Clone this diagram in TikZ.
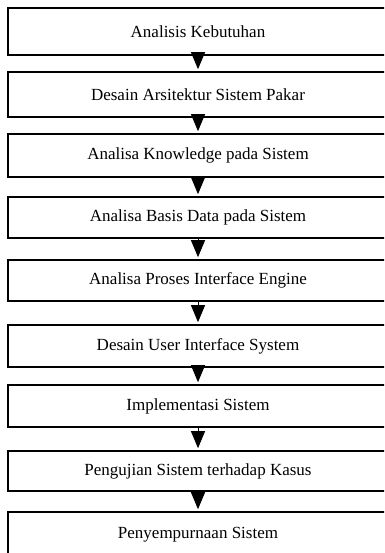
\documentclass[tikz,border=0pt]{standalone}
\usepackage{fontspec}
\setmainfont{Liberation Serif}
\usepackage{tikz}
\usetikzlibrary{arrows.meta}
\tikzset{
stage/.style={draw, line width=1.6pt, minimum width=380pt, minimum height=42pt, inner sep=0pt, font=\fontsize{17}{20}\selectfont},
flow/.style={line width=1pt, -{Triangle[width=14pt,length=17pt]}, shorten >=2pt}}

\begin{document}
\begin{tikzpicture}[x=1pt,y=-1pt]
    \useasboundingbox (0,0) rectangle (384,553);
    \clip (0,0) rectangle (384,553);

                \node[stage, minimum height=47pt] (S1) at (198,31.5) {Analisis Kebutuhan};
                \node[stage, minimum height=45pt] (S2) at (198,94.5) {Desain Arsitektur Sistem Pakar};
                \node[stage, minimum height=43pt] (S3) at (198,155.5) {Analisa Knowledge pada Sistem};
                \node[stage, minimum height=41pt] (S4) at (198,217.5) {Analisa Basis Data pada Sistem};
                \node[stage, minimum height=41pt] (S5) at (198,280.5) {Analisa Proses Interface Engine};
                \node[stage] (S6) at (198,346) {Desain User Interface System};
                \node[stage] (S7) at (198,406) {Implementasi Sistem};
                \node[stage, minimum height=40pt] (S8) at (198,471) {Pengujian Sistem terhadap Kasus};
                \node[stage, minimum height=46pt] (S9) at (198,535) {Penyempurnaan Sistem};

                \draw[flow] (S1) -- (S2);
                \draw[flow] (S2) -- (S3);
                \draw[flow] (S3) -- (S4);
                \draw[flow] (S4) -- (S5);
                \draw[flow] (S5) -- (S6);
                \draw[flow] (S6) -- (S7);
                \draw[flow] (S7) -- (S8);
                \draw[flow] (S8) -- (S9);

            \end{tikzpicture}
\end{document}
